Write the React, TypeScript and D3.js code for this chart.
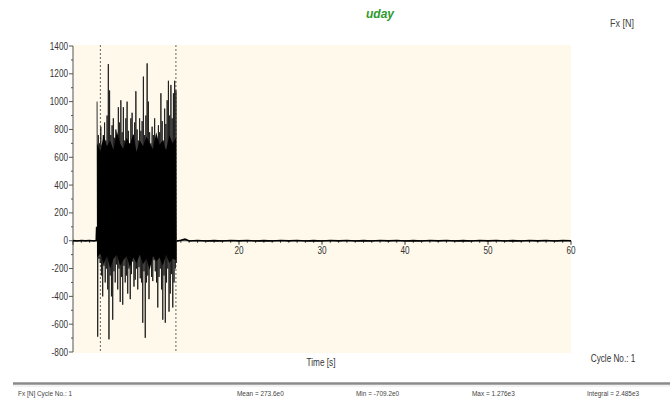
import React from 'react';
import * as d3 from 'd3';

// chart text
const chartTitle = 'uday';
const channelLabel = 'Fx [N]';
const xAxisLabel = 'Time [s]';
const cycleLabel = 'Cycle No.: 1';
const statusItems = ['Fx [N] Cycle No.: 1', 'Mean = 273.6e0', 'Min = -709.2e0', 'Max = 1.276e3', 'Integral = 2.485e3'];

// axes
const yTicks = [-800, -600, -400, -200, 0, 200, 400, 600, 800, 1000, 1200, 1400];
const xTickLabels = [10, 20, 30, 40, 50, 60];

// burst window (s) and cursor lines (s)
const burstStart = 2.9;
const burstEnd = 12.4;
const cursors = [3.3, 12.4];

// upper peaks of each oscillation in the burst (N)
const burstPeaks = [1000, 760, 700, 820, 690, 760, 850, 720, 900, 1270, 1080, 760, 830, 880, 740, 800,
  690, 960, 850, 1010, 780, 960, 720, 880, 1000, 790, 700, 880, 920, 760, 850, 1075,
  800, 720, 880, 790, 860, 1180, 760, 900, 1275, 1000, 780, 700, 820, 760, 880, 740,
  700, 830, 780, 1060, 860, 720, 950, 840, 1010, 1150, 900, 1120, 880, 1060, 1150, 1080];

// lower troughs of each oscillation in the burst (N)
const burstTroughs = [-690, -130, -160, -250, -400, -180, -300, -200, -350, -709, -250, -400, -568, -220, -300, -170,
  -350, -200, -440, -260, -460, -180, -300, -250, -380, -200, -420, -240, -150, -330, -280, -200,
  -350, -190, -270, -300, -590, -220, -698, -300, -250, -420, -170, -260, -290, -140, -220, -300,
  -480, -260, -200, -350, -568, -250, -590, -300, -200, -510, -380, -240, -480, -300, -200, -160];

// dense core band of the burst (N), upper and lower edge
const coreUpper = [700, 640, 760, 680, 720, 650, 790, 700, 660, 740, 690, 770, 640, 720, 680, 750, 700,
  660, 780, 690, 720, 650, 760, 700, 740];
const coreLower = [-120, -90, -170, -110, -200, -130, -100, -180, -140, -110, -190, -120, -160, -100,
  -170, -130, -210, -110, -150, -120, -180, -100, -160, -130, -140];

// quiet signal before the burst
const preTimes = [0, 0.5, 1, 1.5, 2, 2.5, 2.8, 2.85];
const preValues = [1, -2, 2, -1, 2, -2, 1, 100];

// quiet signal after the burst
const postTimes = [12.45, 13, 13.5, 14, 15, 16, 17, 18, 19, 20, 21, 22, 23, 24, 25, 26, 27, 28, 29, 30,
  31, 32, 33, 34, 35, 36, 37, 38, 39, 40, 41, 42, 43, 44, 45, 46, 47, 48, 49, 50,
  51, 52, 53, 54, 55, 56, 57, 58, 59, 60];
const postValues = [-4, 3, 12, -2, 2, -2, 1, -2, 2, -1, 2, -2, 1, -2, 2, -1, 2, -2, 1, -2,
  2, -1, 2, -2, 1, -2, 2, -1, 2, -2, 1, -2, 2, -1, 2, -2, 1, -2, 2, -1,
  2, -2, 1, -2, 2, -1, 2, -2, 1, 0];

const font = "'Liberation Sans', Arial, sans-serif";

// condensed text, like the narrow font of the original software
function NText({ x, y, size, anchor = 'start', fill = '#333', sx = 0.82, children }: any) {
  return (
    <g transform={`translate(${x},${y}) scale(${sx},1)`}>
      <text x={0} y={0} textAnchor={anchor} fontFamily={font} fontSize={size} fill={fill}>{children}</text>
    </g>
  );
}

export default function App() {
  const W = 670, H = 405;
  const plot = { left: 73, right: 571, top: 45, bottom: 353 };

  const x = d3.scaleLinear().domain([0, 60]).range([plot.left, plot.right]);
  const y = d3.scaleLinear().domain([-800, 1400]).range([352, 46]);

  const line = d3.line<[number, number]>().x(d => x(d[0])).y(d => y(d[1]));

  const step = (burstEnd - burstStart) / (burstPeaks.length - 1);
  const burstPts: [number, number][] = [];
  burstPeaks.forEach((p, i) => {
    const t = burstStart + i * step;
    burstPts.push([t, p]);
    burstPts.push([t + step / 2, burstTroughs[i]]);
  });

  const coreStep = (burstEnd - burstStart) / (coreUpper.length - 1);
  const coreArea = d3.area<number>()
    .x((_, i) => x(burstStart + i * coreStep))
    .y0((_, i) => y(coreLower[i]))
    .y1(d => y(d));

  const prePts = preTimes.map((t, i) => [t, preValues[i]] as [number, number]);
  const postPts = postTimes.map((t, i) => [t, postValues[i]] as [number, number]);

  const minorY = d3.range(-800, 1401, 100);
  const minorX = d3.range(0, 61, 1);
  const y0 = y(0);

  return (
    <svg width={W} height={H} style={{ position: 'absolute', left: 0, top: 0, background: '#fff' }}>
      <text x={380} y={18} textAnchor="middle" fontFamily={font} fontSize={12}
        fontWeight="bold" fontStyle="italic" fill="#2e9a2e">{chartTitle}</text>
      <NText x={622} y={27} size={11} anchor="middle" fill="#444">{channelLabel}</NText>

      <rect x={plot.left} y={plot.top} width={plot.right - plot.left} height={plot.bottom - plot.top} fill="#fff9ec" />

      {/* cursors */}
      {cursors.map(c => (
        <line key={'c' + c} x1={x(c)} x2={x(c)} y1={plot.top} y2={plot.bottom} stroke="#666" strokeWidth={1}
          strokeDasharray="2,2" />
      ))}

      {/* y axis */}
      <line x1={plot.left} x2={plot.left} y1={y(1400)} y2={y(-800)} stroke="#555" strokeWidth={1} />
      {minorY.map(v => (
        <line key={'my' + v} x1={plot.left - (v % 200 === 0 ? 4 : 2)} x2={plot.left} y1={y(v)} y2={y(v)}
          stroke="#555" strokeWidth={1} />
      ))}
      {yTicks.map(v => (
        <NText key={'yt' + v} x={plot.left - 5} y={y(v) + 3.5} size={10} anchor="end">{v}</NText>
      ))}

      {/* x axis on zero */}
      <line x1={plot.left} x2={plot.right} y1={y0} y2={y0} stroke="#222" strokeWidth={1} />
      {minorX.map(v => (
        <line key={'mx' + v} x1={x(v)} x2={x(v)} y1={y0} y2={y0 + (v % 10 === 0 ? 4 : 2)} stroke="#333"
          strokeWidth={1} />
      ))}
      {xTickLabels.map(v => (
        <NText key={'xt' + v} x={x(v)} y={y0 + 13} size={10} anchor="middle">{v}</NText>
      ))}

      {/* signal */}
      <path d={line(prePts) || ''} fill="none" stroke="#000" strokeWidth={1.6} />
      <path d={line(postPts) || ''} fill="none" stroke="#000" strokeWidth={1.6} />
      <path d={line(burstPts) || ''} fill="none" stroke="#1a1a1a" strokeWidth={0.9} />
      <path d={coreArea(coreUpper) || ''} fill="#000" />

      <NText x={321} y={366} size={10} anchor="middle">{xAxisLabel}</NText>
      <NText x={613} y={362} size={10} anchor="middle">{cycleLabel}</NText>

      {/* status bar */}
      <line x1={13} x2={W} y1={383.5} y2={383.5} stroke="#8a8a8a" strokeWidth={2.5} />
      <line x1={13} x2={W} y1={386} y2={386} stroke="#e4e4e4" strokeWidth={1} />
      {statusItems.map((s, i) => (
        <NText key={'s' + i} x={[18, 237, 356, 472, 587][i]} y={396} size={7.5} sx={0.86} fill="#444">{s}</NText>
      ))}
    </svg>
  );
}
